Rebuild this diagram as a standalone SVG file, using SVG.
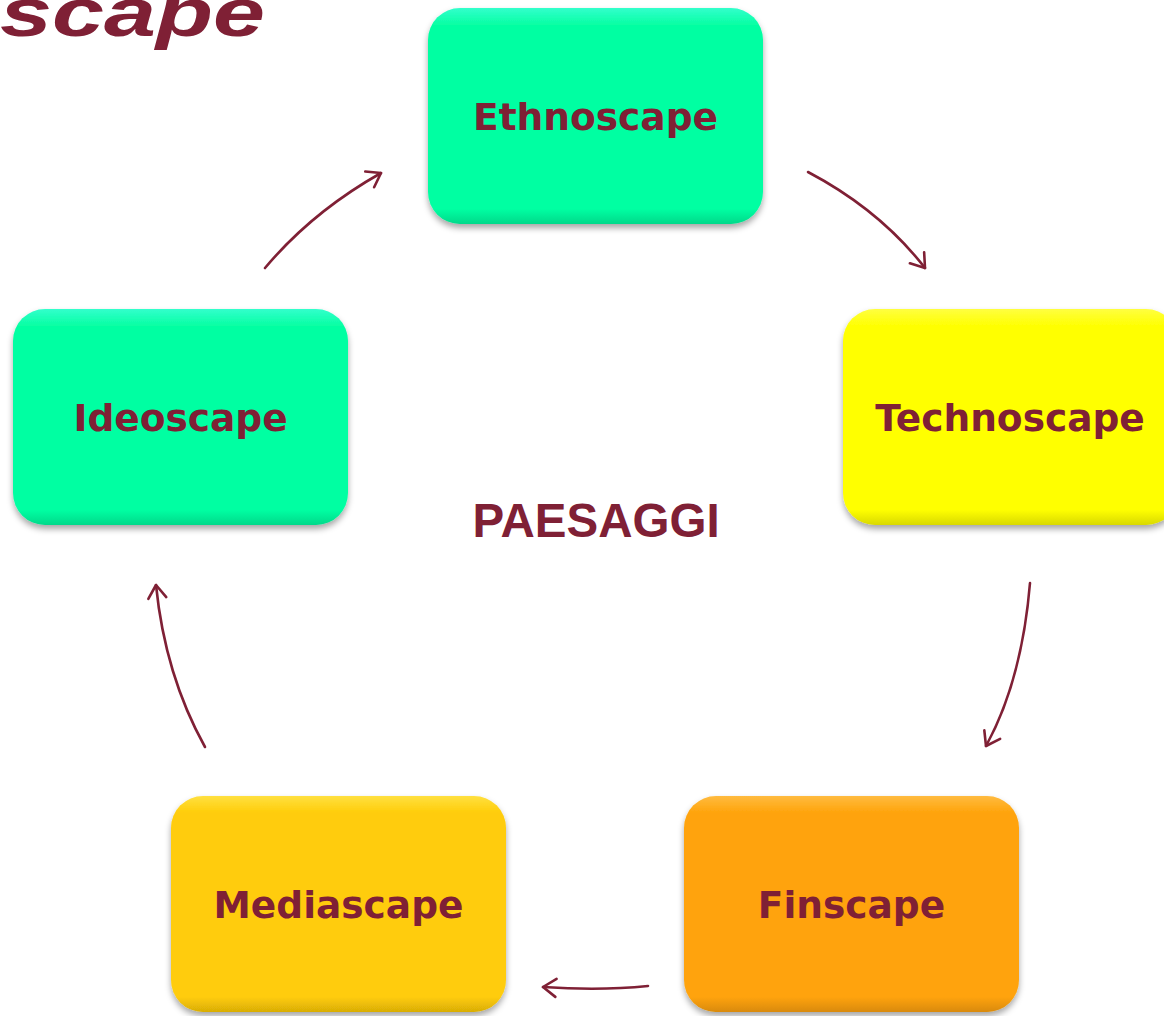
<svg xmlns="http://www.w3.org/2000/svg" width="1164" height="1016" viewBox="0 0 1164 1016">
<style>
.lbl{font-family:"DejaVu Sans",Verdana,sans-serif;font-weight:bold;font-size:37.5px;fill:#7f2035;text-anchor:middle}
.box{filter:url(#sh)}
.conn path{fill:none;stroke:#7f2035;stroke-width:2.6;stroke-linecap:round;marker-end:url(#ah)}
</style>
<defs>
<filter id="sh" x="-10%" y="-10%" width="120%" height="125%">
<feDropShadow dx="0" dy="4" stdDeviation="3" flood-color="#000" flood-opacity="0.35"/>
</filter>
<linearGradient id="gGreen" x1="0" y1="0" x2="0" y2="1"><stop offset="0" stop-color="#33ffcc"/><stop offset="0.08" stop-color="#05ffa2"/><stop offset="0.93" stop-color="#05ffa2"/><stop offset="1" stop-color="#04d98a"/></linearGradient>
<linearGradient id="gYellow" x1="0" y1="0" x2="0" y2="1"><stop offset="0" stop-color="#ffff40"/><stop offset="0.08" stop-color="#ffff00"/><stop offset="0.93" stop-color="#ffff00"/><stop offset="1" stop-color="#d9d900"/></linearGradient>
<linearGradient id="gGold" x1="0" y1="0" x2="0" y2="1"><stop offset="0" stop-color="#ffe040"/><stop offset="0.08" stop-color="#ffcc08"/><stop offset="0.93" stop-color="#ffcc08"/><stop offset="1" stop-color="#d9ad06"/></linearGradient>
<linearGradient id="gOrange" x1="0" y1="0" x2="0" y2="1"><stop offset="0" stop-color="#ffbb40"/><stop offset="0.08" stop-color="#ffa309"/><stop offset="0.93" stop-color="#ffa309"/><stop offset="1" stop-color="#d98a07"/></linearGradient>
<marker id="ah" markerWidth="30" markerHeight="30" refX="0" refY="0" viewBox="-15 -15 30 30" orient="auto" markerUnits="userSpaceOnUse">
<path d="M-13,-9 L0,0 L-13,9" fill="none" stroke="#7f2035" stroke-width="2.6" stroke-linecap="round" stroke-linejoin="round"/>
</marker>
</defs>
<rect width="1164" height="1016" fill="#ffffff"/>
<text x="0" y="36" font-family="Liberation Sans,Arial,sans-serif" font-weight="bold" font-style="italic" font-size="68" fill="#7f2035" textLength="265" lengthAdjust="spacingAndGlyphs">scape</text>
<text x="596" y="537" font-family="Liberation Sans,Arial,sans-serif" font-weight="bold" font-size="47.5" fill="#7f2035" text-anchor="middle">PAESAGGI</text>
<g id="ethnoscape"><rect class="box" x="428" y="8" width="335" height="216" rx="32" fill="url(#gGreen)"/><text class="lbl" x="595.5" y="130">Ethnoscape</text></g>
<g id="technoscape"><rect class="box" x="843" y="309" width="335" height="216" rx="32" fill="url(#gYellow)"/><text class="lbl" x="1010" y="431">Technoscape</text></g>
<g id="finscape"><rect class="box" x="684" y="796" width="335" height="216" rx="32" fill="url(#gOrange)"/><text class="lbl" x="851.5" y="918">Finscape</text></g>
<g id="mediascape"><rect class="box" x="171" y="796" width="335" height="216" rx="32" fill="url(#gGold)"/><text class="lbl" x="338.5" y="918">Mediascape</text></g>
<g id="ideoscape"><rect class="box" x="13" y="309" width="335" height="216" rx="32" fill="url(#gGreen)"/><text class="lbl" x="180.5" y="431">Ideoscape</text></g>
<g id="connectors" class="conn">
<path d="M808,172 Q880,210 925,268"/>
<path d="M1030,583 Q1022,680 986,746"/>
<path d="M648,986 Q600,991 543,987"/>
<path d="M205,747 Q165,675 156,585"/>
<path d="M265,268 Q312,212 381,173"/>
</g>
</svg>
